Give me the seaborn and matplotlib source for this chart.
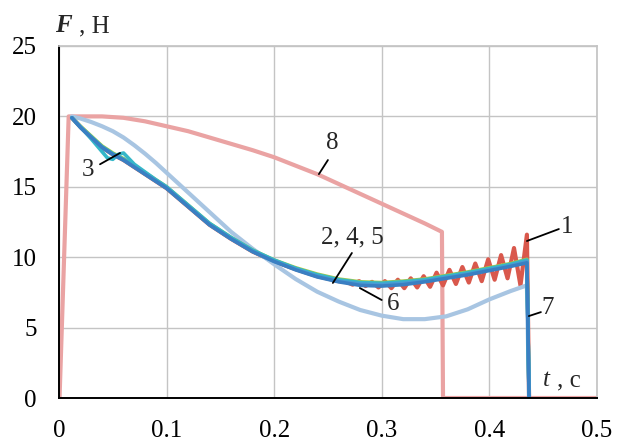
import matplotlib
matplotlib.use("Agg")
import pandas as pd
import matplotlib.pyplot as plt
import seaborn as sns

# Data (t in s, F in N)
# curve 8: pink, drops at t = 0.357
t8 = [0.0005, 0.009, 0.04, 0.06, 0.08, 0.10, 0.12, 0.14, 0.16, 0.18, 0.20, 0.22,
      0.24, 0.26, 0.28, 0.30, 0.32, 0.34, 0.356, 0.357, 0.5]
f8 = [0.0, 20.0, 20.0, 19.9, 19.65, 19.3, 18.95, 18.5, 18.05, 17.6, 17.1, 16.5,
      15.9, 15.2, 14.5, 13.8, 13.1, 12.4, 11.8, 0.0, 0.0]

# curve 7: light blue
t7 = [0.012, 0.02, 0.03, 0.04, 0.05, 0.06, 0.07, 0.08, 0.09, 0.10, 0.12, 0.14,
      0.16, 0.18, 0.20, 0.22, 0.24, 0.26, 0.28, 0.30, 0.32, 0.34, 0.36, 0.38,
      0.40, 0.42, 0.435, 0.437]
f7 = [20.0, 19.85, 19.6, 19.3, 18.95, 18.5, 17.95, 17.35, 16.7, 16.0, 14.6, 13.2,
      11.8, 10.6, 9.5, 8.45, 7.55, 6.85, 6.25, 5.85, 5.6, 5.6, 5.8, 6.3,
      7.0, 7.6, 8.0, 0.0]

# curves 2, 4, 5, 6 share one time grid
t_band = [0.012, 0.02, 0.03, 0.04, 0.05, 0.06, 0.07, 0.08, 0.09, 0.10, 0.12, 0.14,
          0.16, 0.18, 0.20, 0.22, 0.24, 0.26, 0.28, 0.30, 0.32, 0.34, 0.36, 0.38,
          0.40, 0.42, 0.435, 0.437]
f2 = [19.9, 19.3, 18.6, 17.9, 17.4, 17.0, 16.5, 16.0, 15.5, 15.0, 13.7, 12.4,
      11.4, 10.5, 9.8, 9.25, 8.8, 8.45, 8.25, 8.2, 8.3, 8.45, 8.7, 8.95,
      9.25, 9.55, 9.85, 0.0]
f4 = [19.9, 19.25, 18.55, 17.85, 17.35, 16.95, 16.45, 15.95, 15.45, 14.95, 13.65, 12.35,
      11.35, 10.45, 9.75, 9.2, 8.7, 8.35, 8.15, 8.1, 8.2, 8.35, 8.6, 8.85,
      9.15, 9.45, 9.75, 0.0]
f5 = [19.9, 19.25, 18.5, 17.8, 17.3, 16.9, 16.4, 15.9, 15.4, 14.9, 13.6, 12.3,
      11.3, 10.4, 9.7, 9.15, 8.65, 8.3, 8.1, 8.05, 8.15, 8.3, 8.55, 8.8,
      9.1, 9.4, 9.7, 0.0]
f6 = [19.9, 19.2, 18.5, 17.8, 17.3, 16.9, 16.4, 15.9, 15.4, 14.9, 13.6, 12.3,
      11.3, 10.4, 9.7, 9.1, 8.6, 8.25, 8.0, 7.95, 8.05, 8.25, 8.5, 8.75,
      9.05, 9.35, 9.6, 0.0]

# curve 3: with a small bump near t = 0.05
t3 = [0.012, 0.02, 0.03, 0.04, 0.045, 0.05, 0.055, 0.06, 0.065, 0.07, 0.08, 0.09,
      0.10, 0.12, 0.14, 0.16, 0.18, 0.20, 0.22, 0.24, 0.26, 0.28, 0.30, 0.32,
      0.34, 0.36, 0.38, 0.40, 0.42, 0.435, 0.437]
f3 = [19.9, 19.25, 18.4, 17.5, 17.05, 16.95, 17.3, 17.4, 17.0, 16.6, 16.05, 15.5,
      15.0, 13.7, 12.4, 11.4, 10.5, 9.8, 9.2, 8.75, 8.4, 8.2, 8.15, 8.25,
      8.4, 8.65, 8.9, 9.2, 9.5, 9.8, 0.0]

# curve 1: red, oscillating towards the end
t1 = [0.012, 0.02, 0.03, 0.04, 0.05, 0.06, 0.07, 0.08, 0.09, 0.10, 0.12, 0.14,
      0.16, 0.18, 0.20, 0.22, 0.24, 0.26, 0.267,
      0.273, 0.279, 0.285, 0.291, 0.297, 0.303, 0.309, 0.315, 0.321, 0.327,
      0.333, 0.339, 0.345, 0.351, 0.357, 0.363, 0.369, 0.375, 0.381, 0.387,
      0.393, 0.399, 0.405, 0.411, 0.417, 0.423, 0.429, 0.435, 0.437]
f1 = [19.9, 19.25, 18.5, 17.8, 17.3, 16.9, 16.4, 15.9, 15.4, 14.9, 13.6, 12.3,
      11.3, 10.4, 9.7, 9.15, 8.65, 8.3, 8.25,
      8.05, 8.3, 7.95, 8.25, 7.85, 8.3, 7.8, 8.4, 7.8, 8.5,
      7.85, 8.65, 7.9, 8.9, 8.0, 9.1, 8.1, 9.3, 8.2, 9.55,
      8.3, 9.85, 8.4, 10.15, 8.5, 10.65, 8.0, 11.6, 0.0]

sns.set_theme(style="whitegrid")
plt.rcParams['font.family'] = ['Liberation Serif', 'DejaVu Serif']

fig, ax = plt.subplots(figsize=(6.23, 4.41), dpi=100)
fig.subplots_adjust(left=0.0947, right=0.958, bottom=0.0975, top=0.8957)

def draw(t, f, color, lw):
    df = pd.DataFrame({'t': t, 'F': f})
    sns.lineplot(data=df, x='t', y='F', sort=False, estimator=None,
                 color=color, lw=lw, ax=ax)

draw(t8, f8, '#eaa3a3', 3.0)
draw(t1, f1, '#d9584c', 3.0)
draw(t7, f7, '#a8c5e2', 3.0)
draw(t_band, f2, '#a5c94a', 2.6)
draw(t_band, f4, '#2bb3c6', 2.6)
draw(t3, f3, '#35b7c8', 2.6)
draw(t_band, f5, '#4a9bd4', 2.6)
draw(t_band, f6, '#3a7fc2', 2.6)

ax.set_xlim(0, 0.5)
ax.set_ylim(0, 25)
ax.set_xticks([0, 0.1, 0.2, 0.3, 0.4, 0.5])
ax.set_xticklabels(['0', '0.1', '0.2', '0.3', '0.4', '0.5'])
ax.set_yticks([0, 5, 10, 15, 20, 25])
ax.set_xlabel('')
ax.set_ylabel('')
ax.grid(True, color='#c4c4c4', lw=1.0)
ax.tick_params(axis='both', labelsize=18, colors='black')
ax.tick_params(axis='y', length=5, color='#c4c4c4', width=1.0, pad=11)
ax.tick_params(axis='x', length=7, color='#c4c4c4', width=1.0, pad=9)
for side in ['top', 'right']:
    ax.spines[side].set_color('#c4c4c4')
for side in ['left', 'bottom']:
    ax.spines[side].set_color('black')
    ax.spines[side].set_linewidth(1.4)

# curve number labels with leader lines
labels = [
    ('8', (0.2537, 18.1), (0.250, 16.9), (0.2416, 15.9)),
    ('3', (0.027, 16.2), (0.0381, 16.6), (0.0567, 17.4)),
    ('2, 4, 5', (0.273, 11.4), (0.2723, 10.3), (0.2546, 8.17)),
    ('6', (0.311, 6.7), (0.300, 6.96), (0.2797, 7.81)),
    ('1', (0.472, 12.15), (0.4647, 12.0), (0.435, 11.15)),
    ('7', (0.4545, 6.4), (0.448, 6.1), (0.4368, 5.82)),
]
for txt, pos, a, b in labels:
    ax.text(pos[0], pos[1], txt, fontsize=18, ha='center', va='center')
    ax.annotate('', xy=b, xytext=a,
                arrowprops=dict(arrowstyle='-', lw=1.3, color='black',
                                shrinkA=0, shrinkB=0))

# axis captions
fig.text(55 / 623, 1 - 32 / 441, 'F', fontsize=18, fontweight='bold',
         fontstyle='italic', va='baseline')
fig.text(79 / 623, 1 - 32 / 441, ', Н', fontsize=18, va='baseline')
fig.text(543 / 623, 1 - 386 / 441, 't', fontsize=18, fontstyle='italic', va='baseline')
fig.text(557 / 623, 1 - 386 / 441, ', с', fontsize=18, va='baseline')

fig.savefig('out.png', dpi=100)
